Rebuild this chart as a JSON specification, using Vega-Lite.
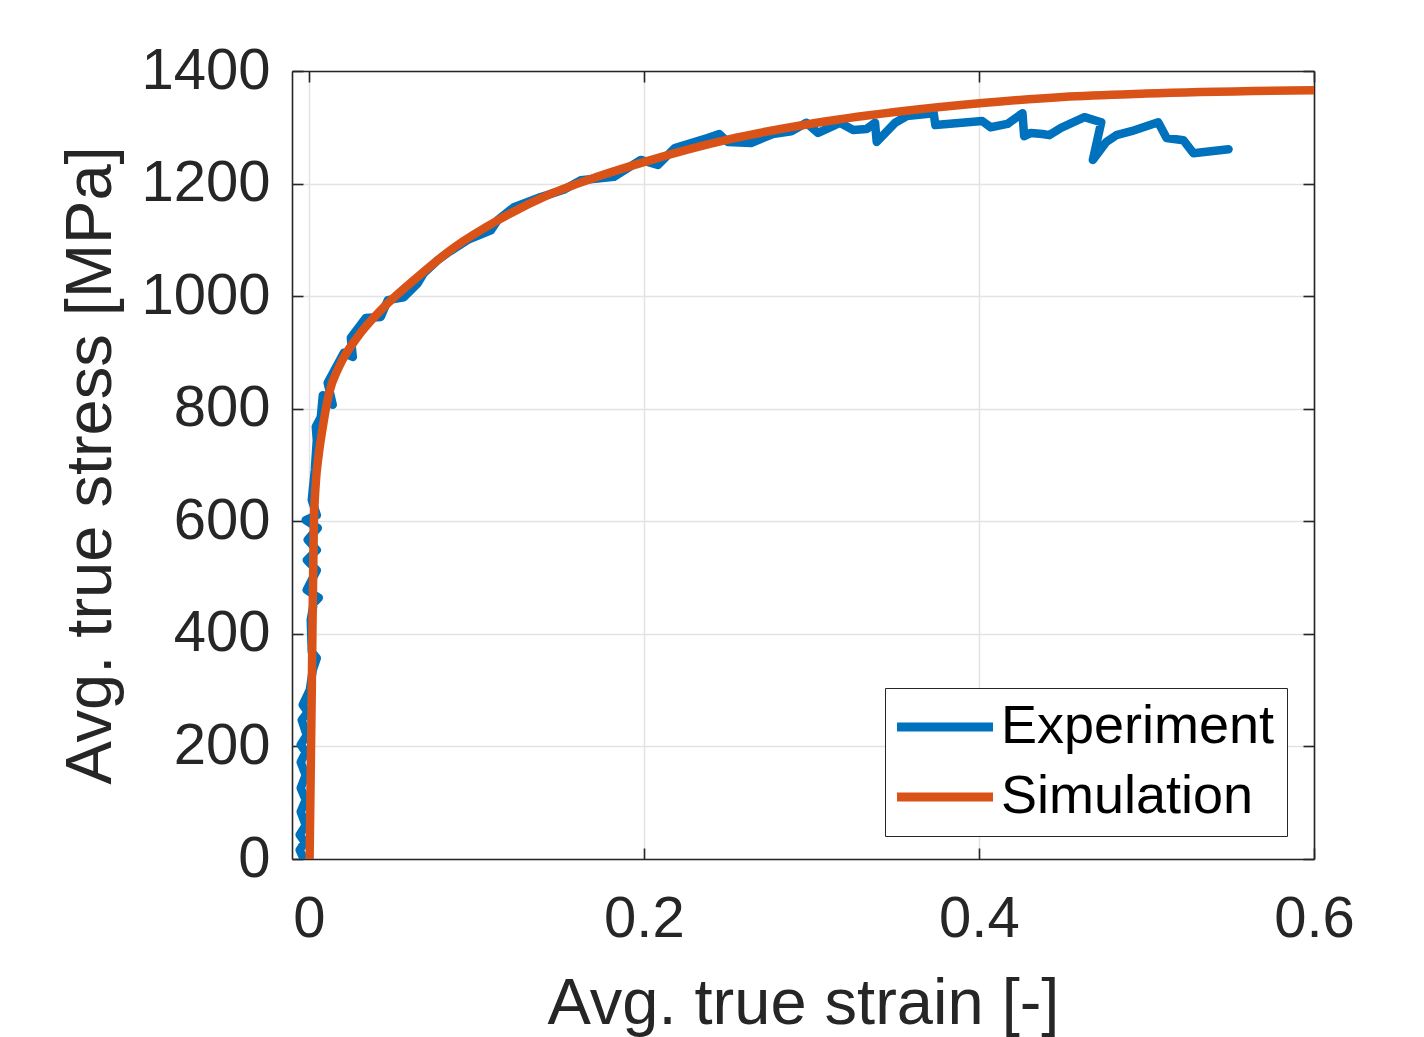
{
  "$schema": "https://vega.github.io/schema/vega-lite/v6.json",
  "autosize": {"type": "none"},
  "padding": {"left": 292, "top": 71, "right": 110, "bottom": 178},
  "width": 1022,
  "height": 788,
  "background": "white",
  "config": {
    "view": {"stroke": null},
    "font": "Liberation Sans",
    "axis": {
      "labelFont": "Liberation Sans",
      "titleFont": "Liberation Sans",
      "labelFontSize": 58,
      "titleFontSize": 65,
      "titleFontWeight": "normal",
      "labelColor": "#262626",
      "titleColor": "#262626",
      "domainColor": "#262626",
      "domainWidth": 1.6,
      "tickColor": "#262626",
      "tickWidth": 1.6,
      "tickSize": -11,
      "gridColor": "#e3e3e3",
      "gridWidth": 1.5,
      "labelFlush": false
    },
    "legend": {
      "labelFont": "Liberation Sans",
      "labelFontSize": 54,
      "labelColor": "#000000",
      "labelLimit": 0
    }
  },
  "datasets": {
    "exp": [
      {"s":"Experiment","i":0,"x":-0.0030,"y":0},
      {"s":"Experiment","i":1,"x":-0.0054,"y":16},
      {"s":"Experiment","i":2,"x":-0.0024,"y":30},
      {"s":"Experiment","i":3,"x":-0.0054,"y":43},
      {"s":"Experiment","i":4,"x":-0.0018,"y":60},
      {"s":"Experiment","i":5,"x":-0.0048,"y":84},
      {"s":"Experiment","i":6,"x":-0.0018,"y":105},
      {"s":"Experiment","i":7,"x":-0.0048,"y":126},
      {"s":"Experiment","i":8,"x":-0.0018,"y":149},
      {"s":"Experiment","i":9,"x":-0.0048,"y":172},
      {"s":"Experiment","i":10,"x":-0.0018,"y":190},
      {"s":"Experiment","i":11,"x":-0.0048,"y":203},
      {"s":"Experiment","i":12,"x":-0.0012,"y":220},
      {"s":"Experiment","i":13,"x":-0.0042,"y":247},
      {"s":"Experiment","i":14,"x":-0.0006,"y":261},
      {"s":"Experiment","i":15,"x":-0.0036,"y":274},
      {"s":"Experiment","i":16,"x":0.0006,"y":300},
      {"s":"Experiment","i":17,"x":0.0024,"y":336},
      {"s":"Experiment","i":18,"x":0.0048,"y":357},
      {"s":"Experiment","i":19,"x":0.0018,"y":368},
      {"s":"Experiment","i":20,"x":0.0012,"y":425},
      {"s":"Experiment","i":21,"x":0.0030,"y":455},
      {"s":"Experiment","i":22,"x":0.0060,"y":464},
      {"s":"Experiment","i":23,"x":-0.0012,"y":478},
      {"s":"Experiment","i":24,"x":0.0048,"y":513},
      {"s":"Experiment","i":25,"x":-0.0012,"y":531},
      {"s":"Experiment","i":26,"x":0.0048,"y":549},
      {"s":"Experiment","i":27,"x":-0.0006,"y":567},
      {"s":"Experiment","i":28,"x":0.0054,"y":588},
      {"s":"Experiment","i":29,"x":-0.0018,"y":602},
      {"s":"Experiment","i":30,"x":0.0048,"y":611},
      {"s":"Experiment","i":31,"x":0.0018,"y":638},
      {"s":"Experiment","i":32,"x":0.0036,"y":691},
      {"s":"Experiment","i":33,"x":0.0048,"y":744},
      {"s":"Experiment","i":34,"x":0.0042,"y":768},
      {"s":"Experiment","i":35,"x":0.0072,"y":785},
      {"s":"Experiment","i":36,"x":0.0084,"y":824},
      {"s":"Experiment","i":37,"x":0.0143,"y":807},
      {"s":"Experiment","i":38,"x":0.0113,"y":846},
      {"s":"Experiment","i":39,"x":0.0209,"y":899},
      {"s":"Experiment","i":40,"x":0.0263,"y":892},
      {"s":"Experiment","i":41,"x":0.0251,"y":926},
      {"s":"Experiment","i":42,"x":0.0340,"y":961},
      {"s":"Experiment","i":43,"x":0.0430,"y":963},
      {"s":"Experiment","i":44,"x":0.0472,"y":993},
      {"s":"Experiment","i":45,"x":0.0567,"y":998},
      {"s":"Experiment","i":46,"x":0.0651,"y":1023},
      {"s":"Experiment","i":47,"x":0.0687,"y":1041},
      {"s":"Experiment","i":48,"x":0.0770,"y":1064},
      {"s":"Experiment","i":49,"x":0.0830,"y":1077},
      {"s":"Experiment","i":50,"x":0.0949,"y":1100},
      {"s":"Experiment","i":51,"x":0.1087,"y":1117},
      {"s":"Experiment","i":52,"x":0.1128,"y":1135},
      {"s":"Experiment","i":53,"x":0.1224,"y":1158},
      {"s":"Experiment","i":54,"x":0.1385,"y":1176},
      {"s":"Experiment","i":55,"x":0.1522,"y":1189},
      {"s":"Experiment","i":56,"x":0.1624,"y":1206},
      {"s":"Experiment","i":57,"x":0.1821,"y":1212},
      {"s":"Experiment","i":58,"x":0.1982,"y":1242},
      {"s":"Experiment","i":59,"x":0.2084,"y":1233},
      {"s":"Experiment","i":60,"x":0.2185,"y":1263},
      {"s":"Experiment","i":61,"x":0.238,"y":1281},
      {"s":"Experiment","i":62,"x":0.245,"y":1288},
      {"s":"Experiment","i":63,"x":0.250,"y":1274},
      {"s":"Experiment","i":64,"x":0.264,"y":1272},
      {"s":"Experiment","i":65,"x":0.277,"y":1288},
      {"s":"Experiment","i":66,"x":0.288,"y":1293},
      {"s":"Experiment","i":67,"x":0.297,"y":1308},
      {"s":"Experiment","i":68,"x":0.304,"y":1290},
      {"s":"Experiment","i":69,"x":0.317,"y":1308},
      {"s":"Experiment","i":70,"x":0.325,"y":1295},
      {"s":"Experiment","i":71,"x":0.333,"y":1297},
      {"s":"Experiment","i":72,"x":0.338,"y":1308},
      {"s":"Experiment","i":73,"x":0.339,"y":1274},
      {"s":"Experiment","i":74,"x":0.350,"y":1308},
      {"s":"Experiment","i":75,"x":0.357,"y":1320},
      {"s":"Experiment","i":76,"x":0.373,"y":1325},
      {"s":"Experiment","i":77,"x":0.374,"y":1304},
      {"s":"Experiment","i":78,"x":0.402,"y":1311},
      {"s":"Experiment","i":79,"x":0.407,"y":1300},
      {"s":"Experiment","i":80,"x":0.417,"y":1306},
      {"s":"Experiment","i":81,"x":0.426,"y":1325},
      {"s":"Experiment","i":82,"x":0.427,"y":1284},
      {"s":"Experiment","i":83,"x":0.431,"y":1290},
      {"s":"Experiment","i":84,"x":0.438,"y":1288},
      {"s":"Experiment","i":85,"x":0.442,"y":1286},
      {"s":"Experiment","i":86,"x":0.449,"y":1299},
      {"s":"Experiment","i":87,"x":0.463,"y":1318},
      {"s":"Experiment","i":88,"x":0.473,"y":1309},
      {"s":"Experiment","i":89,"x":0.468,"y":1242},
      {"s":"Experiment","i":90,"x":0.476,"y":1274},
      {"s":"Experiment","i":91,"x":0.482,"y":1286},
      {"s":"Experiment","i":92,"x":0.491,"y":1293},
      {"s":"Experiment","i":93,"x":0.507,"y":1309},
      {"s":"Experiment","i":94,"x":0.512,"y":1281},
      {"s":"Experiment","i":95,"x":0.522,"y":1277},
      {"s":"Experiment","i":96,"x":0.528,"y":1254},
      {"s":"Experiment","i":97,"x":0.549,"y":1261}
    ],
    "sim": [
      {"s":"Simulation","i":0,"x":0.0005,"y":0},
      {"s":"Simulation","i":1,"x":0.0018,"y":300},
      {"s":"Simulation","i":2,"x":0.0030,"y":590},
      {"s":"Simulation","i":3,"x":0.0042,"y":668},
      {"s":"Simulation","i":4,"x":0.0058,"y":715},
      {"s":"Simulation","i":5,"x":0.0084,"y":768},
      {"s":"Simulation","i":6,"x":0.012,"y":826},
      {"s":"Simulation","i":7,"x":0.018,"y":874},
      {"s":"Simulation","i":8,"x":0.029,"y":927},
      {"s":"Simulation","i":9,"x":0.043,"y":975},
      {"s":"Simulation","i":10,"x":0.063,"y":1029},
      {"s":"Simulation","i":11,"x":0.087,"y":1087},
      {"s":"Simulation","i":12,"x":0.113,"y":1135},
      {"s":"Simulation","i":13,"x":0.143,"y":1180},
      {"s":"Simulation","i":14,"x":0.173,"y":1213},
      {"s":"Simulation","i":15,"x":0.202,"y":1240},
      {"s":"Simulation","i":16,"x":0.25,"y":1278},
      {"s":"Simulation","i":17,"x":0.297,"y":1305},
      {"s":"Simulation","i":18,"x":0.35,"y":1327},
      {"s":"Simulation","i":19,"x":0.402,"y":1343},
      {"s":"Simulation","i":20,"x":0.45,"y":1354},
      {"s":"Simulation","i":21,"x":0.5,"y":1360},
      {"s":"Simulation","i":22,"x":0.6,"y":1366}
    ]
  },
  "layer": [
    {
      "data": {"name": "exp"},
      "mark": {"type": "line", "strokeWidth": 8.5, "strokeCap": "round", "strokeJoin": "round", "clip": true},
      "encoding": {
        "x": {"field": "x", "type": "quantitative",
          "scale": {"domain": [-0.01, 0.6], "nice": false, "zero": false},
          "axis": {"orient": "bottom", "values": [0, 0.2, 0.4, 0.6], "format": "~g",
            "title": "Avg. true strain [-]", "labelPadding": 42, "titlePadding": 24, "grid": true}},
        "y": {"field": "y", "type": "quantitative",
          "scale": {"domain": [0, 1400], "nice": false},
          "axis": {"orient": "left", "values": [0,200,400,600,800,1000,1200,1400], "format": "d",
            "title": "Avg. true stress [MPa]", "labelPadding": 33, "titlePadding": 16, "grid": true}},
        "color": {"field": "s", "type": "nominal",
          "scale": {"domain": ["Experiment", "Simulation"], "range": ["#0072BD", "#D95319"]},
          "legend": {
            "title": null, "orient": "none", "legendX": 593, "legendY": 617,
            "symbolType": "M-2.25,0H5.75", "symbolSize": 576, "symbolStrokeWidth": 9,
            "symbolFillColor": "transparent",
            "labelOffset": 50, "padding": 12, "rowPadding": 16,
            "strokeColor": "#262626", "fillColor": "white"
          }},
        "order": {"field": "i", "type": "quantitative"}
      }
    },
    {
      "data": {"name": "sim"},
      "mark": {"type": "line", "strokeWidth": 8.5, "strokeCap": "butt", "strokeJoin": "round", "interpolate": "monotone", "clip": true},
      "encoding": {
        "x": {"field": "x", "type": "quantitative",
          "axis": {"orient": "top", "values": [0, 0.2, 0.4, 0.6], "labels": false, "title": null, "grid": false}},
        "y": {"field": "y", "type": "quantitative",
          "axis": {"orient": "right", "values": [0,200,400,600,800,1000,1200,1400], "labels": false, "title": null, "grid": false}},
        "color": {"field": "s", "type": "nominal"},
        "order": {"field": "i", "type": "quantitative"}
      }
    }
  ],
  "resolve": {"axis": {"x": "independent", "y": "independent"}}
}
